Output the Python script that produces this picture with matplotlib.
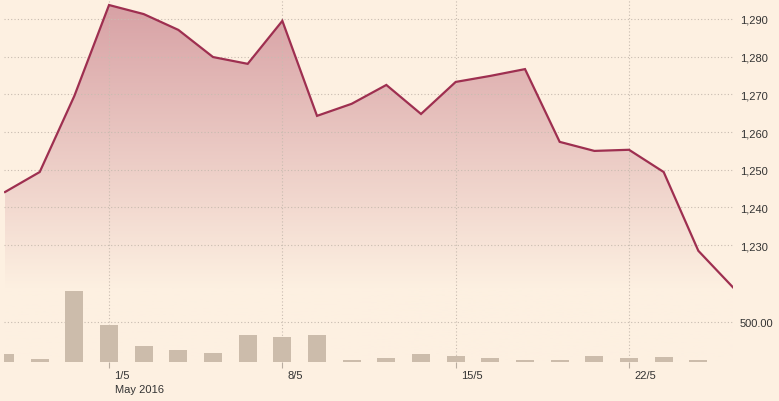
import numpy as np
import matplotlib.pyplot as plt
from matplotlib.colors import LinearSegmentedColormap
from matplotlib.transforms import blended_transform_factory

# trading days, 26 Apr - 25 May 2016
dates = ["26/4", "27/4", "28/4", "1/5", "2/5", "3/5", "4/5", "5/5", "8/5", "9/5",
         "10/5", "11/5", "12/5", "15/5", "16/5", "17/5", "18/5", "19/5", "22/5",
         "23/5", "24/5", "25/5"]
prices = [1244.1, 1249.4, 1269.6, 1293.7, 1291.3, 1287.1, 1279.9, 1278.1, 1289.5,
          1264.3, 1267.5, 1272.5, 1264.8, 1273.3, 1274.9, 1276.7, 1257.4, 1255.0,
          1255.3, 1249.4, 1228.5, 1218.8]
volumes = [100, 37, 887, 462, 200, 150, 112, 337, 312, 337, 25, 50, 100, 75, 50,
           25, 25, 75, 50, 62, 25, 0]
tick_dates = ["1/5", "8/5", "15/5", "22/5"]
price_ticks = [1230, 1240, 1250, 1260, 1270, 1280, 1290]
vol_ticks = [500]

bg = "#fdf0e1"
claret = "#9e2f50"
grid_c = "#c8bcb0"
txt_c = "#333333"
plt.rcParams["font.family"] = ["Liberation Sans", "DejaVu Sans"]

x = np.arange(len(dates))

fig = plt.figure(figsize=(7.79, 4.02), dpi=100, facecolor=bg)
pos = [4 / 779, 39 / 402, 729 / 779, 363 / 402]
ax = fig.add_axes(pos)
ax.set_facecolor(bg)
ax.set_xlim(-0.03, 21)
ax.set_ylim(1199.0, 1295.3)

# gradient area under the line
cmap = LinearSegmentedColormap.from_list("g", ["#fdf0e1", "#d7a0a4"])
grad = np.linspace(0, 1, 256).reshape(-1, 1)
grad = np.clip((grad * (1295.3 - 1199.0) + 1199.0 - 1218.4) / (1295.3 - 1218.4), 0, 1)
im = ax.imshow(grad, extent=[-0.03, 21, 1199.0, 1295.3], origin="lower",
               aspect="auto", cmap=cmap, vmin=0, vmax=1, zorder=1)
poly = ax.fill_between(x, prices, 1199.0, facecolor="none", edgecolor="none")
im.set_clip_path(poly.get_paths()[0], transform=ax.transData)

ax.plot(x, prices, color=claret, lw=1.6, zorder=4, solid_joinstyle="miter")

tick_pos = [dates.index(d) for d in tick_dates]
ax.set_xticks(tick_pos)
ax.set_xticklabels([])
ax.tick_params(axis="x", length=4, color="#b8aca0", width=0.8)
ax.set_yticks(price_ticks)
ax.set_yticklabels([f"{v:,}" for v in price_ticks])
ax.yaxis.tick_right()
ax.tick_params(axis="y", length=0, pad=5, labelsize=8, labelcolor=txt_c)
ax.grid(True, ls=(0, (1, 2)), color=grid_c, lw=0.8, zorder=2)
for s in ax.spines.values():
    s.set_visible(False)

tr = blended_transform_factory(ax.transData, ax.transAxes)
for p, d in zip(tick_pos, tick_dates):
    ax.annotate(d, (p, 0), xycoords=tr, xytext=(4, -9.3), textcoords="offset points",
                ha="left", va="center", fontsize=8, color=txt_c)
ax.annotate("May 2016", (tick_pos[0], 0), xycoords=tr, xytext=(4, -19.6),
            textcoords="offset points", ha="left", va="center", fontsize=8, color=txt_c)

# volume bars
vax = fig.add_axes(pos, sharex=ax)
vax.patch.set_visible(False)
vax.set_ylim(0, 4537.5)
vax.bar(x, volumes, width=0.52, color="#ccbcab", zorder=3)
vax.set_yticks(vol_ticks)
vax.set_yticklabels([f"{v:.2f}" for v in vol_ticks])
vax.yaxis.tick_right()
vax.tick_params(axis="y", length=0, pad=5, labelsize=8, labelcolor=txt_c)
vax.tick_params(axis="x", length=0, labelbottom=False)
vax.yaxis.grid(True, ls=(0, (1, 2)), color=grid_c, lw=0.8)
for s in vax.spines.values():
    s.set_visible(False)

fig.savefig("out.png", dpi=100, facecolor=bg)
